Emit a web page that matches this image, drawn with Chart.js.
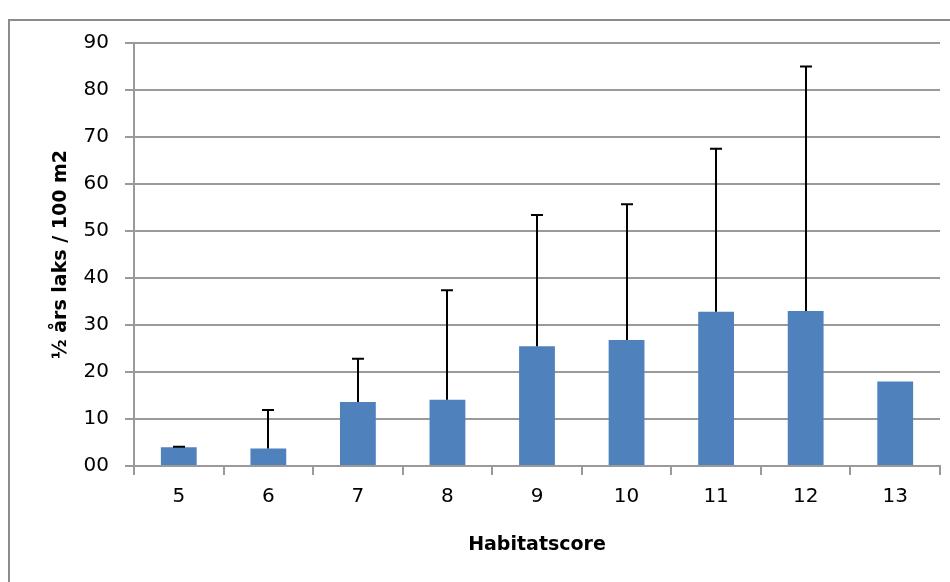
<!DOCTYPE html>
<html>
<head>
<meta charset="utf-8">
<script src="https://cdn.jsdelivr.net/npm/chart.js@4/dist/chart.umd.min.js"></script>
<style>
  html, body { margin: 0; padding: 0; background: #fff; overflow: hidden; }
  #wrap { position: relative; width: 950px; height: 582px; }
  #frame { position: absolute; left: 8px; top: 19px; width: 1000px; height: 1000px;
           border: 2px solid #8c8c8c; box-sizing: border-box; pointer-events: none; }
  canvas { position: absolute; left: 0; top: 0; }
</style>
</head>
<body>
<div id="wrap">
  <canvas id="c" width="950" height="582"></canvas>
  <div id="frame"></div>
</div>
<script>
const categories = ['5', '6', '7', '8', '9', '10', '11', '12', '13'];
const meanValues = [4.0, 3.7, 13.6, 14.1, 25.5, 26.8, 32.8, 33.0, 18.0];
const errorTops = [4.1, 11.9, 22.8, 37.4, 53.4, 55.7, 67.5, 85.0, null];
const yTicks = [0, 10, 20, 30, 40, 50, 60, 70, 80, 90];
const xTitle = 'Habitatscore';
const yTitle = '½ års laks / 100 m2';

const gridColor = '#9a9a9a';

const errorBarPlugin = {
  id: 'errorBars',
  afterDatasetsDraw(chart) {
    const meta = chart.getDatasetMeta(0);
    const y = chart.scales.y;
    const ctx = chart.ctx;
    ctx.save();
    ctx.strokeStyle = '#000';
    ctx.lineWidth = 2;
    meta.data.forEach((bar, i) => {
      const top = errorTops[i];
      if (top === null || top === undefined) return;
      const x = Math.round(bar.x);
      const y0 = y.getPixelForValue(meanValues[i]);
      const y1 = y.getPixelForValue(top);
      ctx.beginPath();
      ctx.moveTo(x, y0);
      ctx.lineTo(x, y1);
      ctx.moveTo(x - 6, y1);
      ctx.lineTo(x + 6, y1);
      ctx.stroke();
    });
    ctx.restore();
  }
};

new Chart(document.getElementById('c'), {
  type: 'bar',
  data: {
    labels: categories,
    datasets: [{
      data: meanValues,
      backgroundColor: '#4f81bd',
      borderWidth: 0,
      barPercentage: 0.4,
      categoryPercentage: 1.0
    }]
  },
  options: {
    responsive: false,
    animation: false,
    devicePixelRatio: 1,
    layout: { padding: { top: 43, right: 10, left: 0, bottom: 0 } },
    plugins: { legend: { display: false }, tooltip: { enabled: false } },
    scales: {
      x: {
        afterFit(scale) { scale.height = 116; },
        grid: { offset: true, drawOnChartArea: false, drawTicks: true, tickLength: 9, color: gridColor, lineWidth: 2 },
        border: { display: true, color: gridColor, width: 2 },
        ticks: { color: '#000', padding: 10, font: { family: 'DejaVu Sans', size: 20 } },
        title: {
          display: true, text: xTitle, color: '#000',
          font: { family: 'DejaVu Sans', size: 19, weight: 'bold' },
          padding: { top: 0, bottom: 26 }
        }
      },
      y: {
        min: 0, max: 90,
        afterFit(scale) { scale.width = 134; },
        afterBuildTicks(scale) { scale.ticks = yTicks.map(v => ({ value: v })); },
        grid: { drawTicks: true, tickLength: 9, color: gridColor, lineWidth: 2 },
        border: { display: true, color: gridColor, width: 2 },
        ticks: {
          color: '#000', padding: 16,
          font: { family: 'DejaVu Sans', size: 20 },
          callback: (v) => v === 0 ? '00' : String(v)
        },
        title: {
          display: true, text: yTitle, color: '#000',
          font: { family: 'DejaVu Sans', size: 19, weight: 'bold' },
          padding: { top: 50, bottom: 0 }
        }
      }
    }
  },
  plugins: [errorBarPlugin]
});
</script>
</body>
</html>
